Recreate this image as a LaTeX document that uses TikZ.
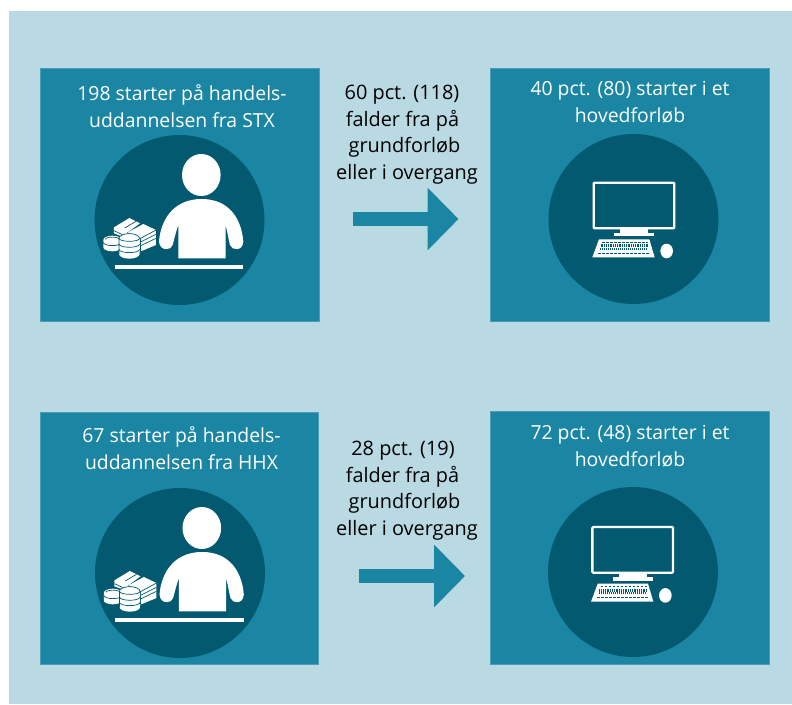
\documentclass[tikz,border=0pt]{standalone}
\usepackage{fontspec}
\setmainfont{Open Sans}
\usetikzlibrary{arrows.meta}
\definecolor{bgblue}{HTML}{B9D9E3}
\definecolor{boxblue}{HTML}{1A86A3}
\definecolor{boxedge}{HTML}{4A9DB5}
\definecolor{darkblue}{HTML}{035A70}
\tikzset{
  panel/.style={rectangle,fill=boxblue,draw=boxedge,line width=0.6pt,inner sep=0pt},
  disc/.style={circle,fill=darkblue,inner sep=0pt,minimum size=170pt},
  whitetext/.style={text=white,font=\fontsize{19.4}{27}\selectfont,align=center,inner sep=0pt},
  blacktext/.style={text=black,font=\fontsize{19.9}{26.5}\selectfont,align=center,inner sep=0pt},
  flow/.style={draw=boxblue,line width=14.5pt,-{Triangle[length=31pt,width=61pt]}},
  iconline/.style={draw=darkblue,line width=0.7pt},
  zoomgrid/.style={x=0.3333pt,y=-0.3333pt}
}
% person with desk, drawn in the crop grid of the first panel
\newcommand{\personicon}[2]{%
  \begin{scope}[shift={(#1,#2)},zoomgrid]
    \fill[white] (334,105) ellipse [x radius=19.3pt,y radius=21pt];
    \fill[white] (265,355) -- (265,255) .. controls (258,275) and (252,300) .. (248,315)
      .. controls (244,332) and (210,335) .. (207,305)
      .. controls (212,240) and (250,177) .. (335,177)
      .. controls (420,177) and (455,240) .. (460,305)
      .. controls (458,335) and (425,332) .. (420,315)
      .. controls (416,300) and (412,275) .. (407,255) -- (407,355) -- cycle;
    \fill[white] (75,374) rectangle (460,386);
    % bills
    \fill[white] (72,262) -- (118,234) -- (150,250) -- (112,278) -- (112,295) -- (72,280) -- cycle;
    \fill[white] (112,278) -- (160,252) -- (198,270) -- (198,315) -- (150,335) -- (112,310) -- cycle;
    \draw[iconline] (104,264) -- (138,244);
    \draw[iconline] (72,272) -- (106,288);
    \draw[iconline] (112,278) -- (150,296) -- (198,270);
    \draw[iconline] (150,296) -- (150,335);
    \draw[iconline] (150,307) -- (198,283);
    \draw[iconline] (150,318) -- (198,295);
    % coins
    \fill[white] (40,300) arc [start angle=180,end angle=0,x radius=9pt,y radius=4.3pt]
      -- (94,322) arc [start angle=0,end angle=-180,x radius=9pt,y radius=4pt] -- cycle;
    \draw[iconline] (40,307) arc [start angle=180,end angle=360,x radius=9pt,y radius=3.3pt];
    \draw[iconline] (46,298) arc [start angle=180,end angle=0,x radius=7pt,y radius=2.2pt];
    \fill[white] (87,295) arc [start angle=180,end angle=0,x radius=10.3pt,y radius=4.7pt]
      -- (149,342) arc [start angle=0,end angle=-180,x radius=10.3pt,y radius=4.7pt] -- cycle;
    \draw[iconline] (87,342) -- (87,295) arc [start angle=180,end angle=0,x radius=10.3pt,y radius=4.7pt];
    \draw[iconline] (87,295) arc [start angle=180,end angle=360,x radius=10.3pt,y radius=3pt];
    \draw[iconline] (87,312) arc [start angle=180,end angle=360,x radius=10.3pt,y radius=3.3pt];
    \draw[iconline] (87,328) arc [start angle=180,end angle=360,x radius=10.3pt,y radius=3.3pt];
  \end{scope}}
% computer, drawn in the crop grid of the second panel
\newcommand{\computericon}[2]{%
  \begin{scope}[shift={(#1,#2)},zoomgrid]
    \draw[white,line width=2.3pt,rounded corners=1pt] (101,68) rectangle (343,205);
    \fill[white] (180,205) rectangle (265,220);
    \fill[white] (162,219) rectangle (282,229);
    \fill[white] (117,238) -- (268,238) -- (284,292) -- (97,292) -- cycle;
    \draw[darkblue,line width=0.8pt,dash pattern=on 2.6pt off 1.4pt] (126,246) -- (264,246);
    \draw[darkblue,line width=3pt,dash pattern=on 0.9pt off 0.9pt] (122,258) -- (266,258);
    \draw[darkblue,line width=2.2pt,dash pattern=on 0.9pt off 1.1pt] (120,267) -- (264,267);
    \draw[darkblue,line width=0.8pt,dash pattern=on 2.6pt off 1.4pt] (115,280) -- (270,280);
    \fill[white] (320,273) ellipse [x radius=6.3pt,y radius=7.3pt];
  \end{scope}}
\begin{document}
\begin{tikzpicture}[x=1pt,y=-1pt]
  \useasboundingbox (0,0) rectangle (792,704);
  \fill[bgblue] (9,11) rectangle (792,704);
  % panels
  \node[panel,minimum width=279pt,minimum height=253pt] (p1) at (179.5,194.5) {};
  \node[panel,minimum width=279pt,minimum height=253pt] (p2) at (630,194.5) {};
  \node[panel,minimum width=278pt,minimum height=252pt] (p3) at (179,538) {};
  \node[panel,minimum width=279pt,minimum height=253pt] (p4) at (630,537.5) {};
  % discs
  \node[disc] (d1) at (179.5,220) {};
  \node[disc] (d2) at (633.5,219) {};
  \node[disc] (d3) at (180,573) {};
  \node[disc] (d4) at (633,572) {};
  % icons
  \personicon{90}{140}
  \personicon{90.5}{493}
  \computericon{560}{160}
  \computericon{558.7}{504.4}
  % panel texts
  \node[whitetext] (t1) at (182,106) {198 starter på handels-\\uddannelsen fra STX};
  \node[whitetext] (t2) at (630,102) {40 pct. (80) starter i et\\hovedforløb};
  \node[whitetext] (t3) at (181.5,448) {67 starter på handels-\\uddannelsen fra HHX};
  \node[whitetext] (t4) at (630,446.5) {72 pct. (48) starter i et\\hovedforløb};
  % middle texts
  \node[blacktext] (m1) at (407,134.5) {60 pct. (118)\kern10pt\\falder fra på\kern9pt\\grundforløb\kern5pt\\eller i overgang};
  \node[blacktext] (m2) at (407,490.5) {28 pct. (19)\kern8pt\\falder fra på\kern9pt\\grundforløb\kern5pt\\eller i overgang};
  % arrows
  \coordinate (a1s) at (353,219);
  \coordinate (a1e) at (458.5,219);
  \coordinate (a2s) at (359,576);
  \coordinate (a2e) at (465,576);
  \draw[flow] (a1s) -- (a1e);
  \draw[flow] (a2s) -- (a2e);
\end{tikzpicture}
\end{document}
